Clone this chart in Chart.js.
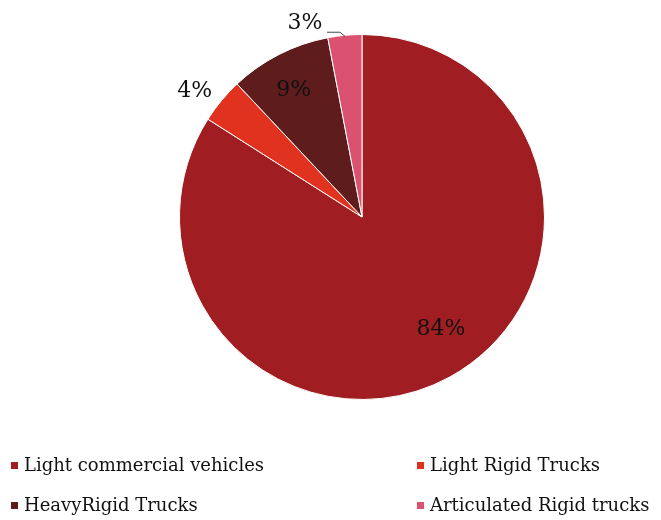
<!DOCTYPE html>
<html>
<head>
<meta charset="utf-8">
<script src="https://cdn.jsdelivr.net/npm/chart.js@4"></script>
<style>
  html, body { margin: 0; padding: 0; background: #fff; }
  #wrap { width: 661px; height: 520px; position: relative; }
</style>
</head>
<body>
<div id="wrap"><canvas id="myChart" width="661" height="520"></canvas></div>
<script>
const categorias = ["Light commercial vehicles", "Light Rigid Trucks", "HeavyRigid Trucks", "Articulated Rigid trucks"];
const valores = [84, 4, 9, 3];
const etiquetas = ["84%", "4%", "9%", "3%"];
const colores = ["#A01E21", "#E0321E", "#5E1C1C", "#DB5270"];

const fuente = "'DejaVu Serif', 'Liberation Serif', serif";

// where each percentage sits: radius factor, and an extra pixel nudge
const posEtiquetas = [
  { r: 0.74, dx: 14, dy: -6 },
  { r: 1.14, dx: -7, dy: 7 },
  { r: 0.80, dx: -2, dy: 3 },
  { r: 1.05, dx: -39, dy: -3, guia: true },
];

const etiquetasPlugin = {
  id: "etiquetas",
  afterDatasetsDraw(chart) {
    const ctx = chart.ctx;
    const arcos = chart.getDatasetMeta(0).data;
    ctx.save();
    ctx.font = "22px " + fuente;
    ctx.fillStyle = "#111";
    ctx.textAlign = "center";
    ctx.textBaseline = "middle";
    arcos.forEach((arco, i) => {
      const medio = (arco.startAngle + arco.endAngle) / 2;
      const p = posEtiquetas[i];
      const x = arco.x + Math.cos(medio) * arco.outerRadius * p.r + p.dx;
      const y = arco.y + Math.sin(medio) * arco.outerRadius * p.r + p.dy;
      ctx.fillText(etiquetas[i], x, y);
      if (p.guia) {
        const bx = arco.x + Math.cos(medio) * (arco.outerRadius - 1);
        const by = arco.y + Math.sin(medio) * (arco.outerRadius - 1);
        ctx.strokeStyle = "#444";
        ctx.lineWidth = 1;
        ctx.beginPath();
        ctx.moveTo(x + 22, y + 9);
        ctx.lineTo(bx - 5, y + 9);
        ctx.lineTo(bx, by);
        ctx.stroke();
      }
    });
    ctx.restore();
  },
};

const leyendaPlugin = {
  id: "leyenda",
  afterDraw(chart) {
    const ctx = chart.ctx;
    const columnas = [11, 417];
    const filas = [466, 506];
    ctx.save();
    ctx.font = "18px " + fuente;
    ctx.textBaseline = "middle";
    ctx.textAlign = "left";
    categorias.forEach((cat, i) => {
      const x = columnas[i % 2];
      const y = filas[Math.floor(i / 2)];
      ctx.fillStyle = colores[i];
      ctx.fillRect(x, y - 4, 7, 7);
      ctx.fillStyle = "#111";
      ctx.fillText(cat, x + 13, y);
    });
    ctx.restore();
  },
};

const config = {
  type: "pie",
  data: {
    labels: categorias,
    datasets: [
      {
        data: valores,
        backgroundColor: colores,
        borderColor: "#ffffff",
        borderWidth: 1,
      },
    ],
  },
  options: {
    responsive: false,
    animation: false,
    layout: { padding: { left: 179, right: 116, top: 34, bottom: 120 } },
    plugins: {
      legend: { display: false },
      tooltip: { enabled: false },
    },
  },
  plugins: [etiquetasPlugin, leyendaPlugin],
};

new Chart(document.querySelector("#myChart"), config);
</script>
</body>
</html>
